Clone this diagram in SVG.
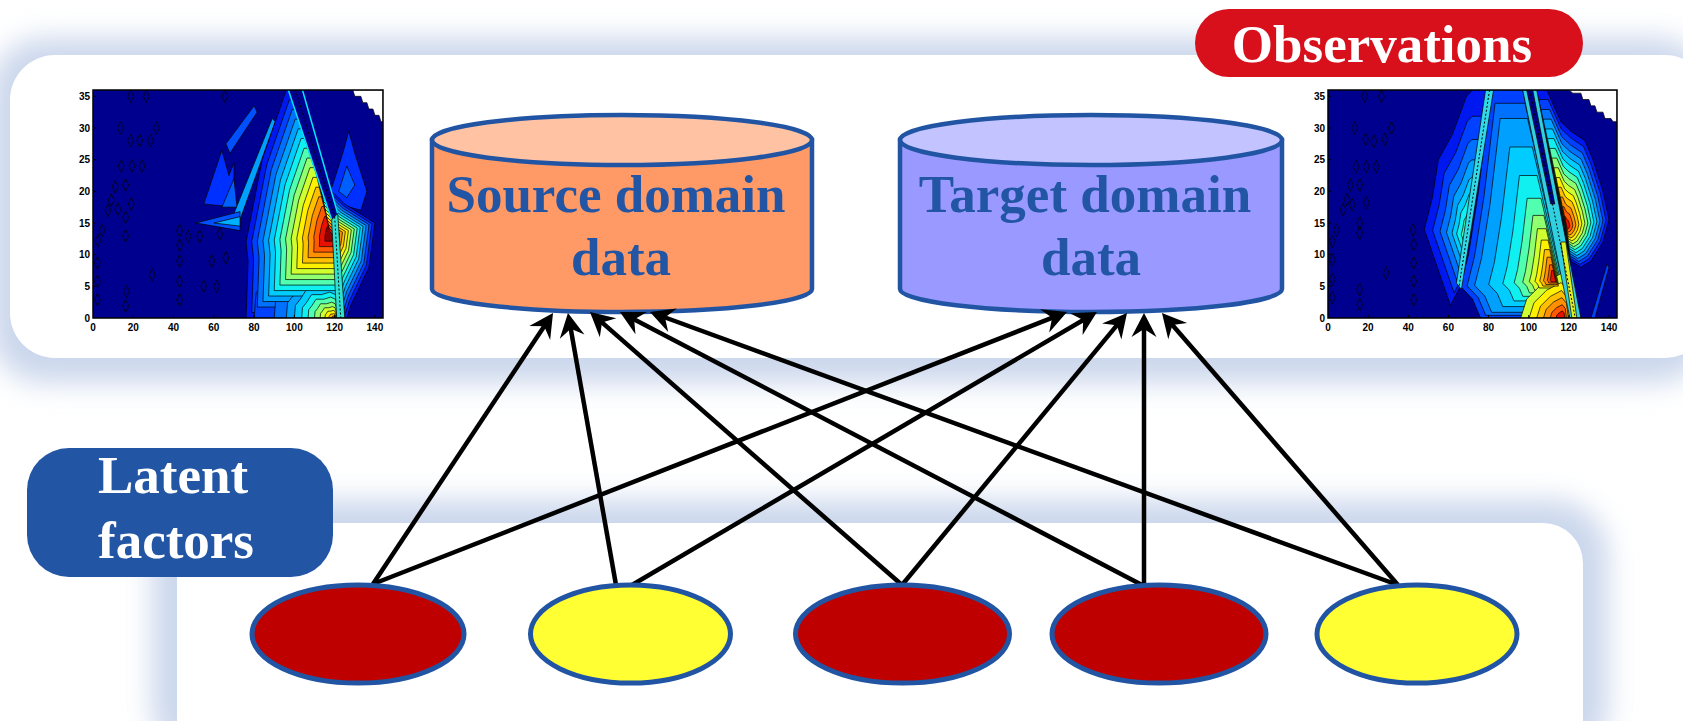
<svg xmlns="http://www.w3.org/2000/svg" width="1683" height="721" viewBox="0 0 1683 721">
<style>
.ct{stroke:#000;stroke-width:0.7px;vector-effect:non-scaling-stroke;stroke-linejoin:round}
.ln{fill:none;vector-effect:non-scaling-stroke}
.ax{font-family:"Liberation Sans",Arial,sans-serif;font-weight:bold;font-size:10px;fill:#000}
.big{font-family:"Liberation Serif","Times New Roman",serif;font-weight:bold;font-size:53px}
.lbl{fill:#fff}
.cyl{fill:#2256A5}
.edge{stroke:#2155A3;stroke-width:4.5}
.node{stroke:#2155A3;stroke-width:5}
.conn line{stroke:#000;stroke-width:4.5;marker-end:url(#ah)}
.frame{fill:none;stroke:#000;stroke-width:1.5}
.tick{stroke:#000;stroke-width:1}
</style>
<defs>
<filter id="blur" x="-20%" y="-40%" width="140%" height="180%"><feGaussianBlur stdDeviation="14"/></filter>
<marker id="ah" markerUnits="userSpaceOnUse" markerWidth="28" markerHeight="28" viewBox="-20 -14 28 28" refX="0" refY="0" orient="auto" overflow="visible"><path d="M6,0 L-18,-12.5 L-10,0 L-18,12.5 Z" fill="#000"/></marker>
<path id="mL" class="ct" d="M76,0 L77,9 L76,12 L84,25 L96,36 L101,36 L112,22 L125,18 L140,15 L137,8 L128,2 L126,0 Z"/>
<path id="bL" class="ct" d="M80,0 L81,4 L86,6 L92,9 L104,9 L114,10 L121,9 L125,5 L125,0 Z"/>
<path id="wR" class="ct" d="M48,14 L52,19 L55,25 L62,29 L69,35 L72,36 L80,36 L66,5 L61,2 Z"/>
<path id="iR" class="ct" d="M81,36 L97,36 L124,0 L76,0 L72,3 L66,5 L70,10 L75,20 Z"/>
<path id="bR" class="ct" d="M96,0 L99,3 L107,5.5 L116,7 L121,5 L123,0 Z"/>
<path id="rR" class="ct" d="M104,36 L109,36 L116,31 L121,29.5 L128,28 L132,25 L137,20 L140,15.5 L137,12 L131,9 L126,8 L121,9 Z"/>
<path id="dm" class="ct" fill="none" d="M0,1 L1.5,0 L0,-1 L-1.5,0 Z"/>
<clipPath id="clipD"><rect x="0" y="0" width="144" height="36"/></clipPath>
</defs>

<rect width="1683" height="721" fill="#fff"/>

<g id="panels">
<rect x="-10" y="38" width="1720" height="345" rx="55" fill="#cbd7ec" filter="url(#blur)"/>
<rect x="152" y="500" width="1456" height="260" rx="55" fill="#cbd7ec" filter="url(#blur)"/>
<rect x="10" y="55" width="1700" height="303" rx="45" fill="#fff"/>
<rect x="177" y="523" width="1406" height="240" rx="40" fill="#fff"/>
</g>

<g id="plot-left">
<g transform="translate(93 318) scale(2.0139 -6.3333)">
<g clip-path="url(#clipD)">
<rect x="0" y="0" width="144" height="36" fill="#00008F"/>
<polygon class="ct" fill="#fff" points="129,36 130,35 133,35 134,34 136,34 137,33 139,33 140,32 142,32 143,31 144,31 144,36"/>
<polygon class="ct" fill="#0030FF" points="55,18 64,26.5 67.5,22.5 70,24.5 70,17.5"/>
<polygon class="ct" fill="#0060FF" points="64,17.5 70,22 71.5,17.5"/>
<polygon class="ct" fill="#0050FF" points="66,27.5 80,33.5 81.5,32.5 68,26"/>
<polygon class="ct" fill="#00A0FF" points="70,16.5 89,31.5 90.5,31 73,15.5"/>
<polygon class="ct" fill="#0050FF" points="51,15 73,16.8 73,13.8"/>
<polygon class="ct" fill="#00B0FF" points="60,15 73,16 73,14.5"/>
<polygon class="ct" fill="#0030FF" points="118,20 124,26 127,29.5 130,26 136,20 133,17 122,18"/>
<polygon class="ct" fill="#0060FF" points="122,20 126,24 130,21 126,19"/>
<use href="#mL" fill="#0018F0"/>
<use href="#mL" fill="#0040FF" transform="translate(118 13) scale(.933) translate(-118 -13)"/>
<use href="#bL" fill="#0040FF"/>
<use href="#mL" fill="#0070FF" transform="translate(118 13) scale(.867) translate(-118 -13)"/>
<use href="#bL" fill="#0070FF" transform="translate(120 0) scale(.75) translate(-120 0)"/>
<use href="#mL" fill="#00A0FF" transform="translate(118 13) scale(.8) translate(-118 -13)"/>
<use href="#bL" fill="#00A0FF" transform="translate(120 0) scale(.6) translate(-120 0)"/>
<use href="#mL" fill="#00CCFF" transform="translate(118 13) scale(.733) translate(-118 -13)"/>
<use href="#bL" fill="#00CCFF" transform="translate(120 0) scale(.5) translate(-120 0)"/>
<use href="#mL" fill="#10F0F0" transform="translate(118 13) scale(.667) translate(-118 -13)"/>
<use href="#bL" fill="#10F0F0" transform="translate(120 0) scale(.41) translate(-120 0)"/>
<use href="#mL" fill="#50FFB0" transform="translate(118 13) scale(.6) translate(-118 -13)"/>
<use href="#bL" fill="#50FFB0" transform="translate(120 0) scale(.33) translate(-120 0)"/>
<use href="#mL" fill="#90FF70" transform="translate(118 13) scale(.533) translate(-118 -13)"/>
<use href="#bL" fill="#90FF70" transform="translate(120 0) scale(.25) translate(-120 0)"/>
<use href="#mL" fill="#D0FF30" transform="translate(118 13) scale(.467) translate(-118 -13)"/>
<use href="#bL" fill="#D0FF30" transform="translate(120 0) scale(.18) translate(-120 0)"/>
<use href="#mL" fill="#FFF000" transform="translate(118 13) scale(.4) translate(-118 -13)"/>
<use href="#bL" fill="#FFF000" transform="translate(120 0) scale(.12) translate(-120 0)"/>
<use href="#mL" fill="#FFC000" transform="translate(118 13) scale(.333) translate(-118 -13)"/>
<use href="#bL" fill="#FFC000" transform="translate(120 0) scale(.07) translate(-120 0)"/>
<use href="#mL" fill="#FF9000" transform="translate(118 13) scale(.267) translate(-118 -13)"/>
<use href="#bL" fill="#FF6000" transform="translate(120 0) scale(.035) translate(-120 0)"/>
<use href="#mL" fill="#FF5A00" transform="translate(118 13) scale(.2) translate(-118 -13)"/>
<use href="#mL" fill="#E81000" transform="translate(118 13) scale(.133) translate(-118 -13)"/>
<use href="#mL" fill="#900000" transform="translate(118 13) scale(.067) translate(-118 -13)"/>
<polygon class="ct" fill="#000090" points="97,36 104,36 121.5,16.5 118.5,15.5"/>
<polyline class="ln" stroke="#00E8FF" stroke-width="1.5" points="97,36 118.5,15.5"/>
<polyline class="ln" stroke="#00E8FF" stroke-width="1.5" points="104,36 121.5,16.5"/>
<polyline class="ln" stroke="#000" stroke-width="1" stroke-dasharray="2 2" points="100.5,36 120,16"/>
<polygon class="ct" fill="#30E0D0" points="118.5,15.5 121.5,16.5 125,0 121,0"/>
<polyline class="ln" stroke="#000" stroke-width="1" stroke-dasharray="2 2" points="120,16 123,0"/>
<use href="#dm" x="18.7" y="35"/><use href="#dm" x="26.5" y="35"/><use href="#dm" x="13.6" y="30"/><use href="#dm" x="31.5" y="30"/>
<use href="#dm" x="18.7" y="28"/><use href="#dm" x="23.2" y="28"/><use href="#dm" x="28.5" y="28"/><use href="#dm" x="14" y="24"/>
<use href="#dm" x="19.4" y="24"/><use href="#dm" x="24.4" y="24"/><use href="#dm" x="11" y="20.7"/><use href="#dm" x="16.2" y="21"/>
<use href="#dm" x="7.5" y="17"/><use href="#dm" x="9" y="18.6"/><use href="#dm" x="12.4" y="17.2"/><use href="#dm" x="19" y="18"/>
<use href="#dm" x="4.5" y="13.8"/><use href="#dm" x="2.5" y="12.2"/><use href="#dm" x="16.2" y="15.9"/><use href="#dm" x="16.2" y="13"/>
<use href="#dm" x="2.2" y="8.7"/><use href="#dm" x="2.2" y="5.8"/><use href="#dm" x="2.2" y="2.9"/><use href="#dm" x="29.4" y="6.8"/>
<use href="#dm" x="16.6" y="4.2"/><use href="#dm" x="16.2" y="1.9"/><use href="#dm" x="43" y="13.8"/><use href="#dm" x="43" y="11.5"/>
<use href="#dm" x="43" y="9"/><use href="#dm" x="43" y="5.8"/><use href="#dm" x="43" y="2.9"/><use href="#dm" x="47.3" y="12.9"/>
<use href="#dm" x="53" y="12.9"/><use href="#dm" x="63" y="13.3"/><use href="#dm" x="66" y="9.5"/><use href="#dm" x="59" y="9"/>
<use href="#dm" x="55" y="5"/><use href="#dm" x="61.4" y="5"/><use href="#dm" x="65.5" y="35"/>
</g>
</g>
<rect class="frame" x="93" y="90" width="290" height="228"/>
<path class="tick" d="M93,286.3h3M93,254.7h3M93,223h3M93,191.3h3M93,159.7h3M93,128h3M93,96.3h3M133.3,318v-3M173.6,318v-3M213.8,318v-3M254.1,318v-3M294.4,318v-3M334.7,318v-3M374.9,318v-3"/>
<g class="ax" text-anchor="end">
<text x="90" y="321.5">0</text><text x="90" y="289.8">5</text><text x="90" y="258.2">10</text><text x="90" y="226.5">15</text>
<text x="90" y="194.8">20</text><text x="90" y="163.2">25</text><text x="90" y="131.5">30</text><text x="90" y="99.8">35</text>
</g>
<g class="ax" text-anchor="middle">
<text x="93" y="331">0</text><text x="133.3" y="331">20</text><text x="173.6" y="331">40</text><text x="213.8" y="331">60</text>
<text x="254.1" y="331">80</text><text x="294.4" y="331">100</text><text x="334.7" y="331">120</text><text x="374.9" y="331">140</text>
</g>
</g>

<g id="plot-right">
<g transform="translate(1328 318) scale(2.007 -6.3333)">
<g clip-path="url(#clipD)">
<rect x="0" y="0" width="144" height="36" fill="#00008F"/>
<polygon class="ct" fill="#fff" points="120,36 122,35.5 126,35.5 127,34.5 130,34.5 131,33.5 133,33.5 134,32.5 137,32.5 138,31.5 141,31.5 142,31 144,31 144,36"/>
<polygon class="ct" fill="#0040FF" points="131,0 139,8.5 140,8 133,0"/>
<use href="#wR" fill="#0018F0"/>
<use href="#rR" fill="#0018F0"/>
<use href="#wR" fill="#0040FF" transform="translate(71 13) scale(.82) translate(-71 -13)"/>
<use href="#iR" fill="#0040FF"/>
<use href="#rR" fill="#0040FF" transform="translate(119 14.5) scale(.93) translate(-119 -14.5)"/>
<use href="#wR" fill="#0070FF" transform="translate(71 13) scale(.66) translate(-71 -13)"/>
<use href="#iR" fill="#0070FF" transform="translate(113 6) scale(.93) translate(-113 -6)"/>
<use href="#rR" fill="#0070FF" transform="translate(119 14.5) scale(.857) translate(-119 -14.5)"/>
<use href="#wR" fill="#00A0FF" transform="translate(71 13) scale(.52) translate(-71 -13)"/>
<use href="#iR" fill="#00A0FF" transform="translate(113 6) scale(.85) translate(-113 -6)"/>
<use href="#rR" fill="#00A0FF" transform="translate(119 14.5) scale(.786) translate(-119 -14.5)"/>
<use href="#wR" fill="#00CCFF" transform="translate(71 13) scale(.4) translate(-71 -13)"/>
<use href="#iR" fill="#00CCFF" transform="translate(113 6) scale(.7) translate(-113 -6)"/>
<use href="#rR" fill="#00CCFF" transform="translate(119 14.5) scale(.714) translate(-119 -14.5)"/>
<use href="#wR" fill="#10F0F0" transform="translate(71 13) scale(.3) translate(-71 -13)"/>
<use href="#iR" fill="#10F0F0" transform="translate(113 6) scale(.55) translate(-113 -6)"/>
<use href="#rR" fill="#10F0F0" transform="translate(119 14.5) scale(.643) translate(-119 -14.5)"/>
<use href="#wR" fill="#50FFB0" transform="translate(71 13) scale(.2) translate(-71 -13)"/>
<use href="#iR" fill="#50FFB0" transform="translate(113 6) scale(.43) translate(-113 -6)"/>
<use href="#rR" fill="#50FFB0" transform="translate(119 14.5) scale(.571) translate(-119 -14.5)"/>
<use href="#wR" fill="#90FF70" transform="translate(71 13) scale(.12) translate(-71 -13)"/>
<use href="#iR" fill="#90FF70" transform="translate(113 6) scale(.34) translate(-113 -6)"/>
<use href="#rR" fill="#90FF70" transform="translate(119 14.5) scale(.5) translate(-119 -14.5)"/>
<use href="#iR" fill="#D0FF30" transform="translate(113 6) scale(.27) translate(-113 -6)"/>
<use href="#bR" fill="#D0FF30"/>
<use href="#rR" fill="#D0FF30" transform="translate(119 14.5) scale(.429) translate(-119 -14.5)"/>
<use href="#iR" fill="#FFF000" transform="translate(113 6) scale(.21) translate(-113 -6)"/>
<use href="#bR" fill="#FFF000" transform="translate(117 0) scale(.8) translate(-117 0)"/>
<use href="#rR" fill="#FFF000" transform="translate(119 14.5) scale(.357) translate(-119 -14.5)"/>
<use href="#iR" fill="#FFC000" transform="translate(113 6) scale(.16) translate(-113 -6)"/>
<use href="#bR" fill="#FFC000" transform="translate(117 0) scale(.62) translate(-117 0)"/>
<use href="#rR" fill="#FFC000" transform="translate(119 14.5) scale(.286) translate(-119 -14.5)"/>
<use href="#iR" fill="#FF9000" transform="translate(113 6) scale(.12) translate(-113 -6)"/>
<use href="#bR" fill="#FF9000" transform="translate(117 0) scale(.46) translate(-117 0)"/>
<use href="#rR" fill="#FF9000" transform="translate(119 14.5) scale(.214) translate(-119 -14.5)"/>
<use href="#iR" fill="#FF5A00" transform="translate(113 6) scale(.08) translate(-113 -6)"/>
<use href="#bR" fill="#FF5A00" transform="translate(117 0) scale(.3) translate(-117 0)"/>
<use href="#rR" fill="#FF5A00" transform="translate(119 14.5) scale(.143) translate(-119 -14.5)"/>
<use href="#iR" fill="#E81000" transform="translate(113 6) scale(.05) translate(-113 -6)"/>
<use href="#bR" fill="#E81000" transform="translate(117 0) scale(.16) translate(-117 0)"/>
<use href="#rR" fill="#E81000" transform="translate(119 14.5) scale(.07) translate(-119 -14.5)"/>
<polygon class="ct" fill="#30D8E8" points="78.5,36 82.5,36 66.5,4.5 64,5.5"/>
<polyline class="ln" stroke="#000" stroke-width="1" stroke-dasharray="2 2" points="80.5,36 65.3,5"/>
<polygon class="ct" fill="#30D0E0" points="97,36 104,36 126,0 120.5,0"/>
<polygon class="ct" fill="#000090" points="99,36 102,36 113,18 111,18"/>
<polygon class="ct" fill="#E0F020" points="116,12 118.5,12 124,0 121.5,0"/>
<polyline class="ln" stroke="#000" stroke-width="1" stroke-dasharray="2 2" points="100.5,36 123.2,0"/>
<use href="#dm" x="18.3" y="35"/><use href="#dm" x="26.6" y="35"/><use href="#dm" x="13.3" y="30"/><use href="#dm" x="31.6" y="30"/>
<use href="#dm" x="18.8" y="28.2"/><use href="#dm" x="22.9" y="27.9"/><use href="#dm" x="28.4" y="28.2"/><use href="#dm" x="14.1" y="23.9"/>
<use href="#dm" x="19.1" y="23.9"/><use href="#dm" x="24.1" y="23.9"/><use href="#dm" x="11.1" y="21"/><use href="#dm" x="15.8" y="21"/>
<use href="#dm" x="7.5" y="17.1"/><use href="#dm" x="9.5" y="18.7"/><use href="#dm" x="12.1" y="17.9"/><use href="#dm" x="19.1" y="18.2"/>
<use href="#dm" x="4.2" y="13.9"/><use href="#dm" x="2.2" y="12.1"/><use href="#dm" x="15.8" y="15"/><use href="#dm" x="15.8" y="13.4"/>
<use href="#dm" x="2.2" y="9.2"/><use href="#dm" x="2.2" y="6.1"/><use href="#dm" x="2.2" y="3.2"/><use href="#dm" x="29" y="7.1"/>
<use href="#dm" x="15.8" y="4.5"/><use href="#dm" x="15.8" y="2.1"/><use href="#dm" x="42.4" y="13.9"/><use href="#dm" x="42.7" y="11.6"/>
<use href="#dm" x="42.7" y="8.7"/><use href="#dm" x="42.7" y="5.8"/><use href="#dm" x="42.7" y="2.9"/>
</g>
</g>
<rect class="frame" x="1328" y="90" width="289" height="228"/>
<path class="tick" d="M1328,286.3h3M1328,254.7h3M1328,223h3M1328,191.3h3M1328,159.7h3M1328,128h3M1328,96.3h3M1368.1,318v-3M1408.3,318v-3M1448.4,318v-3M1488.6,318v-3M1528.7,318v-3M1568.8,318v-3M1609,318v-3"/>
<g class="ax" text-anchor="end">
<text x="1325" y="321.5">0</text><text x="1325" y="289.8">5</text><text x="1325" y="258.2">10</text><text x="1325" y="226.5">15</text>
<text x="1325" y="194.8">20</text><text x="1325" y="163.2">25</text><text x="1325" y="131.5">30</text><text x="1325" y="99.8">35</text>
</g>
<g class="ax" text-anchor="middle">
<text x="1328" y="331">0</text><text x="1368.1" y="331">20</text><text x="1408.3" y="331">40</text><text x="1448.4" y="331">60</text>
<text x="1488.6" y="331">80</text><text x="1528.7" y="331">100</text><text x="1568.8" y="331">120</text><text x="1609" y="331">140</text>
</g>
</g>

<g id="source-domain">
<path class="edge" d="M432,140 L432,289 A190,23 0 0 0 812,289 L812,140 Z" fill="#FF9966"/>
<ellipse class="edge" cx="622" cy="140" rx="190" ry="25" fill="#FFC3A3"/>
<text class="big cyl" x="616" y="212" text-anchor="middle">Source domain</text>
<text class="big cyl" x="621" y="275" text-anchor="middle">data</text>
</g>

<g id="target-domain">
<path class="edge" d="M900,140 L900,289 A191,23 0 0 0 1282,289 L1282,140 Z" fill="#9999FF"/>
<ellipse class="edge" cx="1091" cy="140" rx="191" ry="25" fill="#C3C3FF"/>
<text class="big cyl" x="1085" y="212" text-anchor="middle">Target domain</text>
<text class="big cyl" x="1091" y="275" text-anchor="middle">data</text>
</g>

<g id="observations">
<rect x="1195" y="9" width="388" height="68" rx="34" fill="#D7101C"/>
<text class="big lbl" x="1382" y="62" text-anchor="middle">Observations</text>
</g>

<g id="latent-factors">
<rect x="27" y="448" width="306" height="129" rx="42" fill="#2255A4"/>
<text class="big lbl" x="98" y="493">Latent</text>
<text class="big lbl" x="98" y="558">factors</text>
</g>

<g id="connectors" class="conn">
<line x1="373" y1="584" x2="549.7" y2="318"/>
<line x1="373" y1="584" x2="1061.4" y2="314.2"/>
<line x1="616" y1="585" x2="569" y2="318.9"/>
<line x1="632" y1="585" x2="1091.8" y2="315"/>
<line x1="902" y1="585" x2="594.5" y2="315.9"/>
<line x1="902" y1="585" x2="1123.2" y2="317.6"/>
<line x1="1142" y1="585" x2="625.3" y2="314.8"/>
<line x1="1144" y1="585" x2="1144" y2="319"/>
<line x1="1398" y1="585" x2="655.6" y2="314"/>
<line x1="1398" y1="585" x2="1165.9" y2="317.5"/>
</g>

<g id="latent-1"><ellipse class="node" cx="358" cy="634" rx="106" ry="49" fill="#BF0000"/></g>
<g id="latent-2"><ellipse class="node" cx="630.5" cy="634" rx="100" ry="49" fill="#FFFF33"/></g>
<g id="latent-3"><ellipse class="node" cx="902.5" cy="634" rx="107" ry="49" fill="#BF0000"/></g>
<g id="latent-4"><ellipse class="node" cx="1159" cy="634" rx="107" ry="49" fill="#BF0000"/></g>
<g id="latent-5"><ellipse class="node" cx="1417" cy="634" rx="100" ry="49" fill="#FFFF33"/></g>
</svg>
